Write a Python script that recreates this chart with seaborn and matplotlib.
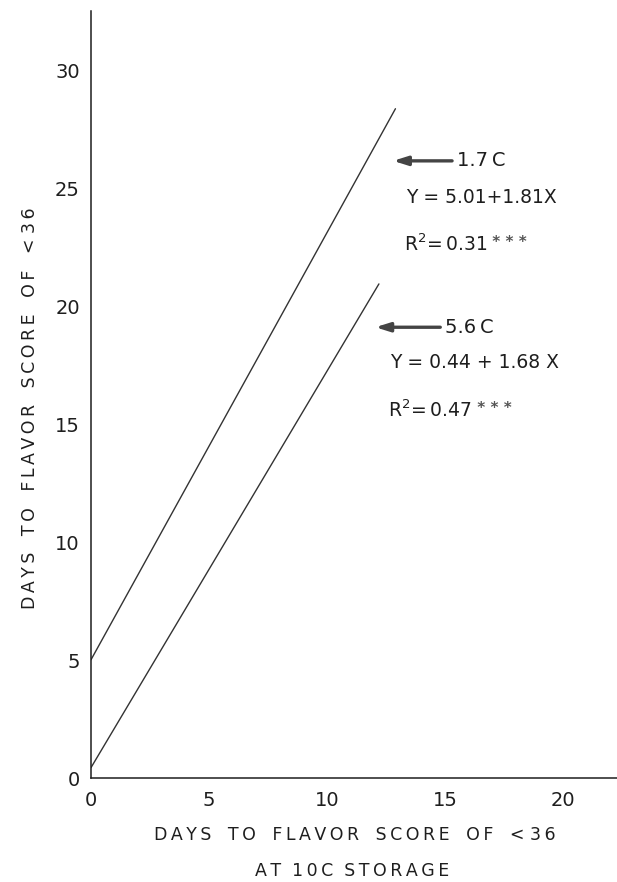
import matplotlib
matplotlib.use("Agg")
import matplotlib.pyplot as plt
import pandas as pd
import seaborn as sns

# Regression fits: days to flavor score < 36 at cold storage vs. at 10 C
storage_temps = ["1.7 C", "5.6 C"]
intercepts = [5.01, 0.44]
slopes = [1.81, 1.68]
r_squared = ["0.31", "0.47"]
x_ranges = [(0.0, 12.9), (0.0, 12.2)]

x_ticks = [0, 5, 10, 15, 20]
y_ticks = [0, 5, 10, 15, 20, 25, 30]

x_title = ["DAYS TO FLAVOR SCORE OF < 36", "AT 10C STORAGE"]
y_title = "DAYS TO FLAVOR SCORE OF < 36"

sns.set_theme(style="white")
plt.rcParams["font.family"] = ["DejaVu Sans"]
plt.rcParams["mathtext.default"] = "regular"

INK = "#1e1e1e"


def tracked(s, word_gap="   "):
    """Wide letter-spaced caption text."""
    out = ["\u2009".join(w) for w in s.split(" ")]
    return word_gap.join(out).replace("<" + word_gap, "< ")


rows = []
for temp, a, b, (x0, x1) in zip(storage_temps, intercepts, slopes, x_ranges):
    for xv in (x0, x1):
        rows.append({"temp": temp, "x": xv, "y": a + b * xv})
df = pd.DataFrame(rows)

fig = plt.figure(figsize=(6.17, 8.82), dpi=100)
ax = fig.add_axes([91 / 617, 1 - 778 / 882, 526 / 617, 767 / 882])

sns.lineplot(data=df, x="x", y="y", units="temp", estimator=None,
             color="#333333", linewidth=1.0, ax=ax, legend=False)

ax.set_xlim(0, 526 / 23.6)
ax.set_ylim(0, 767 / 23.6)
ax.set_xticks(x_ticks)
ax.set_yticks(y_ticks)
ax.set_xlabel("")
ax.set_ylabel("")
for s in ("top", "right"):
    ax.spines[s].set_visible(False)
for s in ("left", "bottom"):
    ax.spines[s].set_color(INK)
    ax.spines[s].set_linewidth(1.1)
ax.tick_params(axis="both", direction="in", length=9, width=0.9,
               color=INK, labelsize=14, labelcolor=INK, pad=8)
ax.tick_params(axis="x", pad=9)

# Arrow, temperature and fit statistics beside each line
ann = [
    # arrow head x, arrow y, arrow tail x, eq x, eq y, r2 x, r2 y
    (12.8, 26.15, 15.3, 13.35, 24.6, 13.26, 22.6),
    (12.05, 19.1, 14.8, 12.67, 17.6, 12.58, 15.6),
]
for temp, a, b, r2, (hx, ay, tx, ex, ey, rx, ry) in zip(
        storage_temps, intercepts, slopes, r_squared, ann):
    ax.annotate("", xy=(hx, ay), xytext=(tx, ay),
                arrowprops=dict(arrowstyle="-|>,head_length=0.7,head_width=0.22",
                                color="#444444", lw=2.4, shrinkA=0, shrinkB=0))
    ax.text(tx + 0.2, ay, temp.replace(" ", "\u2009"), fontsize=14,
            color=INK, va="center", ha="left")
    if temp == "1.7 C":
        eq = f"Y = {a:.2f}+{b:.2f}X"
    else:
        eq = f"Y = {a:.2f} + {b:.2f} X"
    ax.text(ex, ey, eq, fontsize=13.5, color=INK, va="center", ha="left")
    rt = ax.text(rx, ry, f"R$^2$=\u2009{r2}", fontsize=13.5, color=INK,
                 va="center", ha="left")
    ax.annotate(" * * *", xy=(1.0, 0.93), xycoords=rt,
                fontsize=11, fontweight="bold", color="#555555",
                va="top", ha="left")

# Axis titles
fig.text(355 / 617, 1 - 835 / 882, tracked(x_title[0]),
         fontsize=12.5, color=INK, ha="center", va="center")
fig.text(352 / 617, 1 - 871 / 882, tracked(x_title[1], word_gap="  "),
         fontsize=12.5, color=INK, ha="center", va="center")
fig.text(30 / 617, 1 - 408 / 882, tracked(y_title),
         fontsize=12.5, color=INK, ha="center", va="center", rotation=90)

fig.savefig("out.png", dpi=100, facecolor="white")
